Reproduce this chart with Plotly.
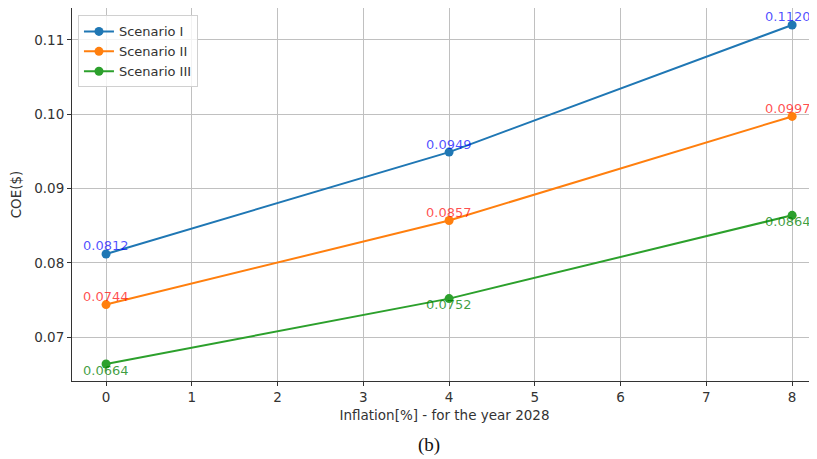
import plotly.graph_objects as go

inflation = [0, 4, 8]
scenario_names = ["Scenario I", "Scenario II", "Scenario III"]
coe_s1 = [0.0812, 0.0949, 0.1120]
coe_s2 = [0.0744, 0.0857, 0.0997]
coe_s3 = [0.0664, 0.0752, 0.0864]
x_ticks = [0, 1, 2, 3, 4, 5, 6, 7, 8]
y_ticks = [0.07, 0.08, 0.09, 0.10, 0.11]

series = [coe_s1, coe_s2, coe_s3]
line_colors = ["#1f77b4", "#ff7f0e", "#2ca02c"]
label_colors = ["rgba(0,0,255,0.7)", "rgba(255,0,0,0.7)", "rgba(0,128,0,0.75)"]
label_shift = [8, 8, -6]

FONT = "DejaVu Sans"
FS = 13.5

fig = go.Figure()
for name, vals, col in zip(scenario_names, series, line_colors):
    fig.add_trace(go.Scatter(
        x=inflation, y=vals, name=name, mode="lines+markers",
        line=dict(color=col, width=2), marker=dict(color=col, size=9),
        cliponaxis=False,
    ))

annotations = []
last_x = inflation[-1]
for vals, tcol, sh in zip(series, label_colors, label_shift):
    for xv, yv in zip(inflation, vals):
        annotations.append(dict(
            x=xv, y=yv, xref="x", yref="y", text=f"{yv:.4f}", showarrow=False,
            yshift=sh, xshift=(-4 if xv == last_x else 0),
            font=dict(family=FONT, size=13, color=tcol),
            xanchor="center", yanchor="middle", borderpad=0,
        ))

annotations.append(dict(
    x=0.479, y=-0.172, xref="paper", yref="paper", text="(b)", showarrow=False,
    font=dict(family="Liberation Serif", size=19, color="#111"),
    xanchor="center", yanchor="middle",
))

# page body has an 8px margin, so the figure is offset by 8px in the page
fig.update_layout(
    width=809, height=451,
    margin=dict(l=64, r=0, t=0, b=78, autoexpand=False),
    paper_bgcolor="white", plot_bgcolor="white",
    font=dict(family=FONT, size=FS, color="#333"),
    annotations=annotations,
    showlegend=True,
    legend=dict(
        x=0.008, y=0.98, xanchor="left", yanchor="top",
        bgcolor="rgba(255,255,255,0.8)", bordercolor="#d0d0d0", borderwidth=1,
        font=dict(family=FONT, size=13, color="#333"),
        itemwidth=30, tracegroupgap=0,
    ),
)
fig.update_xaxes(
    range=[-0.397, 8.29], tickvals=x_ticks, ticktext=[str(t) for t in x_ticks],
    showgrid=True, gridcolor="#c0c0c0", gridwidth=1, zeroline=False,
    showline=True, linecolor="#333", linewidth=1, mirror=True,
    ticks="outside", ticklen=4, tickcolor="#333", automargin=False,
    title=dict(text="Inflation[%] - for the year 2028", standoff=6,
               font=dict(family=FONT, size=FS, color="#333")),
)
fig.update_yaxes(
    range=[0.06412, 0.11428], tickvals=y_ticks, tickformat=".2f",
    showgrid=True, gridcolor="#c0c0c0", gridwidth=1, zeroline=False,
    showline=True, linecolor="#333", linewidth=1,
    ticks="outside", ticklen=4, tickcolor="#333", automargin=False,
    title=dict(text="COE($)", standoff=10,
               font=dict(family=FONT, size=FS, color="#333")),
)

fig.write_html("out.html")
